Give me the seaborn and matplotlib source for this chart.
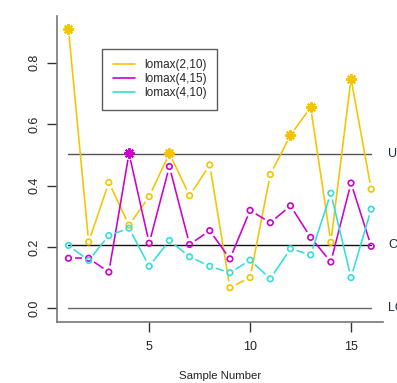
import numpy as np
import pandas as pd
import matplotlib
matplotlib.use("Agg")
import matplotlib.pyplot as plt
import seaborn as sns

sns.set_style("white")
plt.rcParams['font.family'] = ['Liberation Sans', 'DejaVu Sans']

samples = list(range(1, 17))
series_names = ["lomax(2,10)", "lomax(4,15)", "lomax(4,10)"]
lomax_2_10 = [0.909, 0.216, 0.410, 0.271, 0.364, 0.505, 0.367, 0.467,
              0.067, 0.100, 0.436, 0.564, 0.655, 0.215, 0.748, 0.388]
lomax_4_15 = [0.163, 0.163, 0.118, 0.505, 0.212, 0.462, 0.208, 0.253,
              0.161, 0.319, 0.279, 0.334, 0.231, 0.151, 0.408, 0.202]
lomax_4_10 = [0.205, 0.156, 0.237, 0.261, 0.137, 0.221, 0.168, 0.137,
              0.116, 0.157, 0.096, 0.194, 0.174, 0.375, 0.100, 0.323]
colors = ["#F5C400", "#CC00CC", "#33DDDD"]
UCL, CL, LCL = 0.503, 0.205, 0.0
limit_labels = ["UCL", "CL", "LCL"]

fig = plt.figure(figsize=(3.97, 3.83), dpi=100)
ax = fig.add_axes([0.144, 0.160, 0.821, 0.798])
ax.set_xlim(0.44, 16.59)
ax.set_ylim(-0.0437, 0.952)

# control limit lines
for val, col in zip([UCL, CL, LCL], ["#555555", "#111111", "#666666"]):
    ax.plot([samples[0], samples[-1]], [val, val], color=col, lw=1.0, zorder=1)
for val, lab in zip([UCL, CL, LCL], limit_labels):
    ax.text(16.85, val, lab, color="#1a2a4a", fontsize=9, va="center", ha="left",
            clip_on=False)

fig.canvas.draw()
trans = ax.transData
inv = trans.inverted()
gap = 6.5  # pixels

data = [lomax_2_10, lomax_4_15, lomax_4_10]
rows = []
for name, vals, col in zip(series_names, data, colors):
    pts = trans.transform(np.column_stack([samples, vals]))
    for i in range(len(pts) - 1):
        p0, p1 = pts[i], pts[i + 1]
        d = p1 - p0
        L = np.hypot(*d)
        if L <= 2 * gap:
            continue
        u = d / L
        a = inv.transform(p0 + u * gap)
        b = inv.transform(p1 - u * gap)
        ax.plot([a[0], b[0]], [a[1], b[1]], color=col, lw=1.15, zorder=2,
                solid_capstyle="butt")
    for s, v in zip(samples, vals):
        rows.append({"sample": s, "value": v, "series": name,
                     "out": v > UCL})

df = pd.DataFrame(rows)
pal = dict(zip(series_names, colors))
for name in series_names:
    sub = df[(df.series == name) & (~df.out)]
    sns.scatterplot(data=sub, x="sample", y="value", ax=ax, marker="o", s=16,
                    facecolor="none", edgecolor=pal[name], linewidth=1.2,
                    zorder=3, legend=False)
    sub2 = df[(df.series == name) & (df.out)]
    if len(sub2):
        ax.plot(sub2["sample"], sub2["value"], linestyle="none",
                marker=(8, 2, 0), markersize=7.5, mew=1.5, color=pal[name],
                zorder=4)

# legend
handles = [plt.Line2D([], [], color=c, lw=1.2) for c in colors]
leg = ax.legend(handles, series_names, loc="upper left",
                bbox_to_anchor=(0.138, 0.893), frameon=True, fancybox=False,
                edgecolor="#333333", fontsize=8.5, handlelength=1.9,
                handletextpad=0.75, borderpad=0.9, labelspacing=0.15,
                borderaxespad=0)
leg.get_frame().set_linewidth(1.0)

# axes styling (R-like, bty='l')
for sp in ["top", "right"]:
    ax.spines[sp].set_visible(False)
for sp in ["left", "bottom"]:
    ax.spines[sp].set_color("#777777")
    ax.spines[sp].set_linewidth(1.2)
ax.set_xticks([5, 10, 15])
ax.set_yticks([0.0, 0.2, 0.4, 0.6, 0.8])
ax.set_yticklabels(["0.0", "0.2", "0.4", "0.6", "0.8"], rotation=90, va="center")
ax.tick_params(axis="both", direction="out", length=7, width=1.0,
               color="#333333", labelsize=9, labelcolor="#222222",
               left=True, bottom=True)
ax.tick_params(axis="x", pad=7)
ax.tick_params(axis="y", pad=5)
ax.set_xlabel("Sample Number", fontsize=8.2, color="#222222", labelpad=13)
ax.set_ylabel("")

fig.savefig("out.png", dpi=100)
